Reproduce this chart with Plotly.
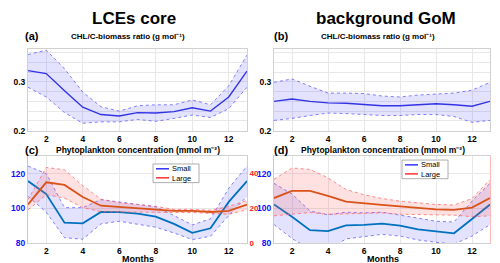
import plotly.graph_objects as go

months = list(range(1, 14))

# Panel (a) CHL/C LCEs core
a_mean = [0.323, 0.317, 0.282, 0.248, 0.233, 0.230, 0.237, 0.236, 0.239, 0.247, 0.240, 0.269, 0.322]
a_up = [0.356, 0.365, 0.327, 0.279, 0.249, 0.240, 0.251, 0.253, 0.253, 0.263, 0.253, 0.292, 0.355]
a_lo = [0.289, 0.269, 0.237, 0.215, 0.218, 0.218, 0.223, 0.219, 0.225, 0.232, 0.227, 0.245, 0.289]

# Panel (b) CHL/C background GoM
b_mean = [0.260, 0.265, 0.260, 0.257, 0.256, 0.254, 0.251, 0.251, 0.253, 0.255, 0.253, 0.250, 0.260]
b_up = [0.299, 0.306, 0.291, 0.277, 0.277, 0.276, 0.271, 0.269, 0.273, 0.275, 0.277, 0.283, 0.299]
b_lo = [0.221, 0.225, 0.231, 0.236, 0.235, 0.233, 0.231, 0.231, 0.233, 0.233, 0.229, 0.217, 0.221]

# Panel (c) phytoplankton LCEs core
c_small = [115.7, 108.3, 91.9, 91.5, 98.0, 97.9, 97.1, 95.4, 91.2, 86.1, 88.7, 103.8, 115.7]
c_small_up = [124.3, 120.0, 100.5, 100.5, 105.1, 103.8, 102.7, 101.0, 96.0, 90.6, 94.1, 111.6, 124.3]
c_small_lo = [107.0, 97.9, 83.3, 82.4, 91.2, 92.7, 91.0, 89.3, 86.0, 82.2, 84.1, 96.0, 107.0]
c_large = [22.3, 35.0, 33.5, 26.6, 21.6, 20.8, 20.1, 19.0, 18.6, 18.6, 18.0, 18.6, 22.3]
c_large_up = [25.1, 43.5, 42.2, 33.1, 25.3, 23.4, 22.3, 21.2, 19.5, 19.5, 19.0, 21.2, 24.6]
c_large_lo = [19.3, 27.9, 26.0, 20.5, 18.2, 18.0, 17.9, 17.7, 17.7, 17.7, 17.1, 16.7, 19.3]

# Panel (d) phytoplankton background GoM
d_small = [102.3, 95.3, 87.6, 87.1, 90.4, 90.6, 91.3, 90.2, 88.0, 86.7, 85.8, 94.0, 102.3]
d_small_up = [114.4, 108.3, 98.6, 96.4, 97.9, 97.5, 97.9, 96.4, 94.5, 92.7, 92.3, 104.2, 114.4]
d_small_lo = [90.8, 82.8, 76.7, 76.1, 82.6, 84.0, 85.2, 84.2, 82.0, 80.7, 79.6, 84.2, 90.8]
d_large = [26.0, 30.1, 30.1, 27.3, 24.0, 22.9, 22.1, 21.2, 20.3, 19.5, 19.2, 20.5, 26.0]
d_large_up = [36.7, 43.2, 42.4, 37.6, 30.9, 27.9, 25.7, 24.2, 23.3, 22.3, 22.0, 25.7, 36.5]
d_large_lo = [15.8, 16.7, 17.7, 16.7, 17.1, 17.5, 17.5, 16.7, 16.4, 16.4, 16.2, 15.3, 15.8]

x_ticks = [2, 4, 6, 8, 10, 12]
top_yticks = [0.2, 0.22, 0.24, 0.26, 0.28, 0.3, 0.32, 0.34, 0.36]
top_ylabels = ["0.2", "", "", "", "", "0.3", "", "", ""]
left_ticks = [80, 100, 120]
right_ticks = [0, 20, 40]
legend_labels = ["Small", "Large"]

FONT = "Liberation Sans, Arial, sans-serif"
BLUE_MEAN = "#0072BD"
RED_MEAN = "#D95319"
BAND_BLUE_FILL = "rgba(70,70,255,0.15)"
BAND_BLUE_EDGE = "rgba(90,90,255,0.75)"
BAND_RED_FILL = "rgba(255,90,90,0.18)"
BAND_RED_EDGE = "rgba(255,100,100,0.75)"

fig = go.Figure()


def band(xa, ya, up, lo, fillc, edgec):
    fig.add_trace(go.Scatter(x=months, y=up, xaxis=xa, yaxis=ya, mode="lines",
                             line=dict(color=edgec, width=1, dash="dot"),
                             showlegend=False, hoverinfo="skip"))
    fig.add_trace(go.Scatter(x=months, y=lo, xaxis=xa, yaxis=ya, mode="lines",
                             line=dict(color=edgec, width=1, dash="dot"),
                             fill="tonexty", fillcolor=fillc,
                             showlegend=False, hoverinfo="skip"))


def mean_line(xa, ya, y, color, width=1.6):
    fig.add_trace(go.Scatter(x=months, y=y, xaxis=xa, yaxis=ya, mode="lines",
                             line=dict(color=color, width=width), showlegend=False))


band("x", "y", a_up, a_lo, BAND_BLUE_FILL, BAND_BLUE_EDGE)
mean_line("x", "y", a_mean, "#3333e6", 1.4)
band("x2", "y2", b_up, b_lo, BAND_BLUE_FILL, BAND_BLUE_EDGE)
mean_line("x2", "y2", b_mean, "#3333e6", 1.4)
band("x3", "y3", c_small_up, c_small_lo, BAND_BLUE_FILL, BAND_BLUE_EDGE)
band("x3", "y5", c_large_up, c_large_lo, BAND_RED_FILL, BAND_RED_EDGE)
mean_line("x3", "y3", c_small, BLUE_MEAN, 1.8)
mean_line("x3", "y5", c_large, RED_MEAN, 1.8)
band("x4", "y4", d_small_up, d_small_lo, BAND_BLUE_FILL, BAND_BLUE_EDGE)
band("x4", "y6", d_large_up, d_large_lo, BAND_RED_FILL, BAND_RED_EDGE)
mean_line("x4", "y4", d_small, BLUE_MEAN, 1.8)
mean_line("x4", "y6", d_large, RED_MEAN, 1.8)

W, H = 500, 263
XL = [20 / W, 239 / W]
XR = [266 / W, 482 / W]
YT = [1 - 125 / H, 1 - 42 / H]
YB = [1 - 240 / H, 1 - 151 / H]

tickfont = dict(family=FONT, size=8.5, color="black", weight="bold")
grid = "#e8e8e8"


def xax(domain, anchor, standoff=0):
    return dict(domain=domain, anchor=anchor, range=[1, 13], tickvals=x_ticks,
                tickfont=tickfont, showgrid=True, gridcolor=grid, gridwidth=1,
                zeroline=False, showline=True, linecolor="#d0d0d0", mirror=True,
                ticks="", ticklabelstandoff=standoff)


layout = dict(
    width=W, height=H, margin=dict(l=0, r=0, t=0, b=0),
    paper_bgcolor="white", plot_bgcolor="white", showlegend=False,
    font=dict(family=FONT),
    xaxis=xax(XL, "y"),
    xaxis2=xax(XR, "y2"),
    xaxis3=xax(XL, "y3", -1),
    xaxis4=xax(XR, "y4", -1),
)


def topy(domain, anchor):
    return dict(domain=domain, anchor=anchor, range=[0.2, 0.367], tickvals=top_yticks,
                ticktext=top_ylabels, tickfont=tickfont, showgrid=True, gridcolor=grid,
                zeroline=False, showline=True, linecolor="#d0d0d0", mirror=True,
                ticks="")


layout["yaxis"] = topy(YT, "x")
layout["yaxis2"] = topy(YT, "x2")


def lefty(domain, anchor):
    return dict(domain=domain, anchor=anchor, range=[80, 130], tickvals=left_ticks,
                tickfont=dict(family=FONT, size=8.5, color="#1010ff", weight="bold"),
                showgrid=True, gridcolor=grid, zeroline=False, showline=True,
                linecolor="#b8c8ff", ticks="")


def righty(overlay, anchor):
    return dict(overlaying=overlay, anchor=anchor, side="right", range=[0, 50],
                tickvals=right_ticks,
                tickfont=dict(family=FONT, size=8, color="#ff1a1a", weight="bold"),
                showgrid=False, zeroline=False, showline=True, linecolor="#ffb8b8",
                ticks="")


layout["yaxis3"] = lefty(YB, "x3")
layout["yaxis4"] = lefty(YB, "x4")
layout["yaxis5"] = righty("y3", "x3")
layout["yaxis6"] = righty("y4", "x4")

fig.update_layout(**layout)


def ann(text, x, y, size, xanchor="center"):
    fig.add_annotation(text=text, x=x / W, y=1 - y / H, xref="paper", yref="paper",
                       showarrow=False, xanchor=xanchor, yanchor="middle",
                       font=dict(family=FONT, size=size, color="black", weight="bold"))


ann("LCEs core", 126, 11, 17)
ann("background GoM", 378, 11, 17)
ann("(a)", 15, 29, 11, "left")
ann("(b)", 264, 29, 11, "left")
ann("(c)", 15, 145, 11, "left")
ann("(d)", 264, 145, 11, "left")
ann("CHL/C-biomass ratio (g mol⁻¹)", 120, 29, 8)
ann("CHL/C-biomass ratio (g mol⁻¹)", 370, 29, 8)
ann("Phytoplankton concentration (mmol m⁻²)", 130, 145, 8.5)
ann("Phytoplankton concentration (mmol m⁻²)", 375, 145, 8.5)
ann("Months", 130, 256, 9)
ann("Months", 375, 256, 9)


def legend_box(x0, y0, x1, y1):
    fig.add_shape(type="rect", xref="paper", yref="paper", x0=x0 / W, x1=x1 / W,
                  y0=1 - y1 / H, y1=1 - y0 / H, line=dict(color="#999999", width=0.8),
                  fillcolor="white", layer="above")
    yc = (y0 + y1) / 2
    for dy, col in [(-4.6, "#3333ff"), (4.6, "#ff3333")]:
        fig.add_shape(type="line", xref="paper", yref="paper", x0=(x0 + 3) / W,
                      x1=(x0 + 16) / W, y0=1 - (yc + dy) / H, y1=1 - (yc + dy) / H,
                      line=dict(color=col, width=1.5), layer="above")
    fig.add_annotation(text="<br>".join(legend_labels), x=(x0 + 18) / W, y=1 - yc / H,
                       xref="paper", yref="paper", showarrow=False, xanchor="left",
                       yanchor="middle", align="left", borderpad=0,
                       font=dict(family=FONT, size=7.5, color="black"))


legend_box(145, 159, 191, 178)
legend_box(394, 155, 440, 174)

fig.write_html("out.html")
